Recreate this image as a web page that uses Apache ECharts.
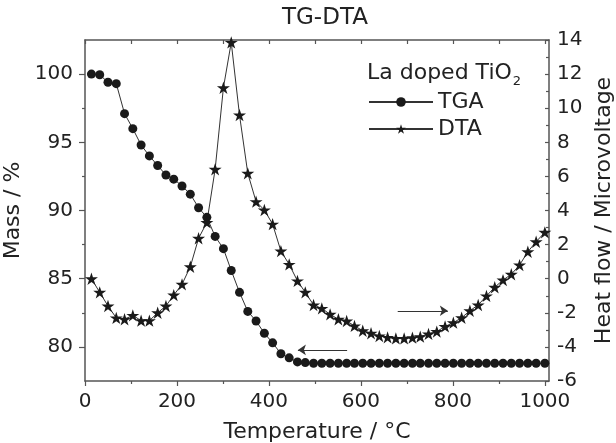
<!DOCTYPE html>
<html>
<head>
<meta charset="utf-8">
<script src="https://cdn.jsdelivr.net/npm/echarts@6/dist/echarts.min.js"></script>
<style>
  html, body { margin: 0; padding: 0; background: #fff; }
  #main { width: 616px; height: 443px; }
</style>
</head>
<body>
<div id="main"></div>
<script>
// temperature grid shared by both curves (deg C)
var temps = [14, 32, 50, 68, 86, 104, 122, 140, 158, 176,
  193, 211, 229, 247, 265, 283, 301, 318, 336, 354,
  372, 390, 408, 426, 444, 462, 479, 497, 515, 533,
  551, 569, 586, 604, 622, 640, 658, 676, 694, 712,
  729, 747, 765, 783, 801, 819, 837, 855, 873, 891,
  909, 927, 945, 963, 981, 1000];

// mass in %
var tga = [100.0, 99.95, 99.4, 99.3, 97.1, 96.0, 94.8, 94.0, 93.3, 92.6,
  92.3, 91.8, 91.2, 90.2, 89.5, 88.1, 87.2, 85.6, 84.0, 82.6,
  81.9, 81.0, 80.3, 79.5, 79.2, 78.9, 78.85, 78.8, 78.8, 78.8,
  78.8, 78.8, 78.8, 78.8, 78.8, 78.8, 78.8, 78.8, 78.8, 78.8,
  78.8, 78.8, 78.8, 78.8, 78.8, 78.8, 78.8, 78.8, 78.8, 78.8,
  78.8, 78.8, 78.8, 78.8, 78.8, 78.8];

// heat flow, microvoltage
var dta = [0.0, -0.8, -1.6, -2.3, -2.38, -2.15, -2.46, -2.46, -2.0, -1.6,
  -0.96, -0.33, 0.7, 2.37, 3.3, 6.42, 11.2, 13.86, 9.6, 6.18,
  4.52, 4.03, 3.2, 1.62, 0.84, -0.13, -0.8, -1.54, -1.74, -2.09,
  -2.38, -2.48, -2.77, -3.05, -3.2, -3.36, -3.44, -3.5, -3.5, -3.46,
  -3.4, -3.24, -3.1, -2.8, -2.58, -2.29, -1.88, -1.54, -1.01, -0.5,
  -0.08, 0.26, 0.8, 1.58, 2.17, 2.72];

// tick positions
var xMajor = [0, 200, 400, 600, 800, 1000];
var xMinor = [100, 300, 500, 700, 900];
var xTop = [0, 100, 200, 300, 400, 500, 600, 700, 800, 900, 1000];
var massMajor = [80, 85, 90, 95, 100];
var massMinor = [82.5, 87.5, 92.5, 97.5];

// arrows: [from, to]
var tgaArrow = [[570, 79.78], [463, 79.78]];
var dtaArrow = [[680, -1.88], [789, -1.88]];

var FONT = 'DejaVu Sans';
var INK = '#222';
var AXIS = '#555';
var STAR = 'path://M50,0 L61.2,34.5 L97.6,34.5 L68.2,55.9 L79.4,90.5 L50,69.1 L20.6,90.5 L31.8,55.9 L2.4,34.5 L38.8,34.5 Z';

function zip(xs, ys) {
  var out = [];
  for (var i = 0; i < xs.length; i++) out.push([xs[i], ys[i]]);
  return out;
}

var lineAxis = { show: true, onZero: false, lineStyle: { color: AXIS, width: 1.5 } };
var noLine = { show: false, onZero: false };
var tickStyle = { color: AXIS, width: 1.2 };

var myChart = echarts.init(document.getElementById('main'));
var option = {
  animation: false,
  backgroundColor: '#fff',
  title: [{
    text: 'TG-DTA',
    left: 282,
    top: 7,
    padding: 0,
    textStyle: { fontFamily: FONT, fontSize: 23, fontWeight: 'normal', color: INK }
  }, {
    text: '{a|La doped TiO}{b|2}',
    left: 367,
    top: 59,
    padding: 0,
    textStyle: {
      fontWeight: 'normal',
      rich: {
        a: { fontFamily: FONT, fontSize: 22, fontWeight: 'normal', color: INK },
        b: { fontFamily: FONT, fontSize: 13, fontWeight: 'normal', color: INK, padding: [16, 0, 0, 1] }
      }
    }
  }],
  legend: {
    orient: 'vertical',
    left: 368,
    top: 91,
    padding: 0,
    itemWidth: 64,
    itemHeight: 12,
    itemGap: 5,
    data: ['TGA', 'DTA'],
    textStyle: { fontFamily: FONT, fontSize: 22, color: INK }
  },
  grid: { left: 85, right: 67, top: 40, bottom: 62, outerBoundsMode: 'none' },
  xAxis: [{
    type: 'value', position: 'bottom', min: 0, max: 1009,
    splitLine: { show: false },
    axisLine: lineAxis,
    axisTick: { customValues: xMajor, length: 5, lineStyle: tickStyle },
    axisLabel: {
      customValues: xMajor, margin: 11, fontFamily: FONT, fontSize: 20, color: INK,
      formatter: function (v) { return String(v); }
    },
    name: 'Temperature / °C',
    nameLocation: 'middle',
    nameGap: 40,
    nameTextStyle: { fontFamily: FONT, fontSize: 22, color: INK }
  }, {
    type: 'value', position: 'bottom', min: 0, max: 1009,
    splitLine: { show: false }, axisLine: noLine, axisLabel: { show: false },
    axisTick: { customValues: xMinor, length: 3, lineStyle: tickStyle }
  }, {
    type: 'value', position: 'top', min: 0, max: 1009,
    splitLine: { show: false }, axisLine: lineAxis, axisLabel: { show: false },
    axisTick: { customValues: xTop, inside: true, length: 4, lineStyle: tickStyle }
  }],
  yAxis: [{
    type: 'value', position: 'left', min: 77.5, max: 102.5,
    splitLine: { show: false },
    axisLine: lineAxis,
    axisTick: { customValues: massMajor, length: 6, lineStyle: tickStyle },
    axisLabel: { customValues: massMajor, margin: 12, fontFamily: FONT, fontSize: 20, color: INK },
    name: 'Mass / %',
    nameLocation: 'middle',
    nameRotate: 90,
    nameGap: 52,
    nameTextStyle: { fontFamily: FONT, fontSize: 22, color: INK }
  }, {
    type: 'value', position: 'left', min: 77.5, max: 102.5,
    splitLine: { show: false }, axisLine: noLine, axisLabel: { show: false },
    axisTick: { customValues: massMinor, length: 3, lineStyle: tickStyle }
  }, {
    type: 'value', position: 'right', min: -6, max: 14, interval: 2,
    splitLine: { show: false },
    axisLine: lineAxis,
    axisTick: { inside: true, length: 4, lineStyle: tickStyle },
    minorTick: { show: true, splitNumber: 2, length: 3, lineStyle: tickStyle },
    axisLabel: { margin: 8, fontFamily: FONT, fontSize: 20, color: INK },
    name: 'Heat flow / Microvoltage',
    nameLocation: 'middle',
    nameRotate: 90,
    nameGap: 43,
    nameTextStyle: { fontFamily: FONT, fontSize: 22, color: INK }
  }],
  series: [{
    name: 'TGA',
    type: 'line',
    xAxisIndex: 0,
    yAxisIndex: 0,
    data: zip(temps, tga),
    symbol: 'circle',
    symbolSize: 9,
    itemStyle: { color: '#1a1a1a' },
    lineStyle: { color: '#333', width: 1 },
    markLine: {
      silent: true,
      symbol: ['none', 'arrow'],
      symbolSize: 8,
      label: { show: false },
      lineStyle: { color: '#333', width: 1, type: 'solid' },
      data: [[{ coord: tgaArrow[0] }, { coord: tgaArrow[1] }]]
    }
  }, {
    name: 'DTA',
    type: 'line',
    xAxisIndex: 0,
    yAxisIndex: 2,
    data: zip(temps, dta),
    symbol: STAR,
    symbolKeepAspect: true,
    symbolSize: 13,
    itemStyle: { color: '#1a1a1a' },
    lineStyle: { color: '#333', width: 1 },
    markLine: {
      silent: true,
      symbol: ['none', 'arrow'],
      symbolSize: 8,
      label: { show: false },
      lineStyle: { color: '#333', width: 1, type: 'solid' },
      data: [[{ coord: dtaArrow[0] }, { coord: dtaArrow[1] }]]
    }
  }]
};
myChart.setOption(option);
</script>
</body>
</html>
